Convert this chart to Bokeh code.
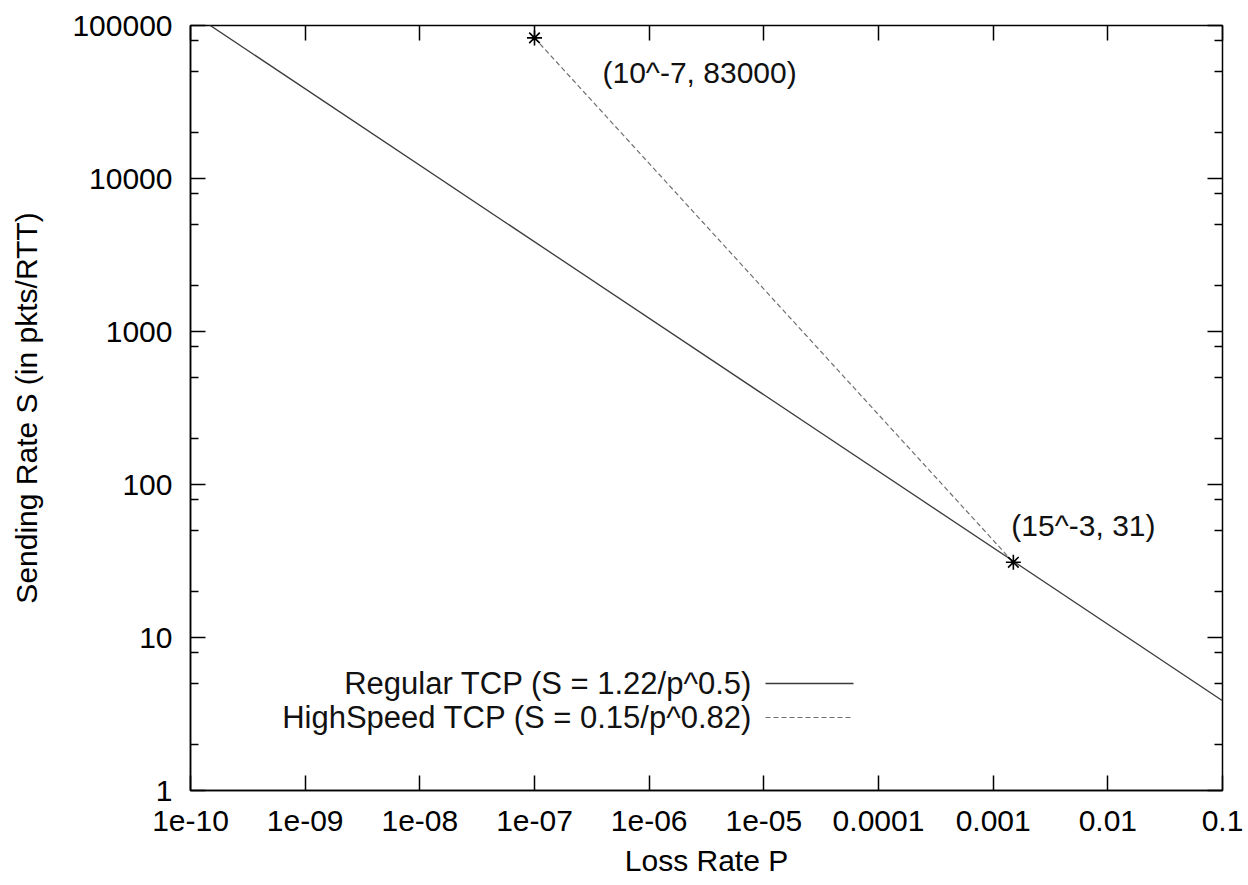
from bokeh.plotting import figure
from bokeh.models import FixedTicker, LogAxis, CustomJSTickFormatter
from bokeh.core.properties import value
from bokeh.embed import file_html
from bokeh.resources import INLINE

# ---- data ----
regular_p = [1e-10, 0.1]
regular_s = [122000, 3.86]
highspeed_p = [1e-7, 0.0015]
highspeed_s = [83000, 31]
point_p = [1e-7, 0.0015]
point_s = [83000, 31]
point_labels = ["(10^-7, 83000)", "(15^-3, 31)"]
legend_labels = ["Regular TCP (S = 1.22/p^0.5)", "HighSpeed TCP (S = 0.15/p^0.82)"]
x_ticks = [1e-10, 1e-9, 1e-8, 1e-7, 1e-6, 1e-5, 1e-4, 1e-3, 1e-2, 1e-1]
x_tick_labels = ["1e-10", "1e-09", "1e-08", "1e-07", "1e-06", "1e-05", "0.0001", "0.001", "0.01", "0.1"]
y_ticks = [1, 10, 100, 1000, 10000, 100000]
y_tick_labels = ["1", "10", "100", "1000", "10000", "100000"]
y_minor = [m * 10 ** k for k in range(5) for m in (2, 5, 8)]

FONT = "Liberation Sans"
FS = "30px"

p = figure(x_axis_type="log", y_axis_type="log",
           x_range=(1e-10, 0.1), y_range=(1, 100000),
           frame_width=1032, frame_height=765,
           min_border_left=190, min_border_top=25, min_border_right=24, min_border_bottom=92,
           output_backend="svg", toolbar_location=None)
p.grid.visible = False
p.outline_line_color = "black"
p.outline_line_width = 1.5
p.background_fill_color = "white"
p.border_fill_color = "white"

xfmt = CustomJSTickFormatter(args=dict(labels=x_tick_labels),
                             code="const i = Math.round(Math.log10(tick)) + 10; return labels[i] ?? '';")
yfmt = CustomJSTickFormatter(args=dict(labels=y_tick_labels),
                             code="const i = Math.round(Math.log10(tick)); return labels[i] ?? '';")
blank = CustomJSTickFormatter(code="return '';")

def style_axis(ax, ticker, fmt):
    ax.ticker = ticker
    ax.formatter = fmt
    ax.axis_line_color = "black"
    ax.axis_line_width = 1.5
    ax.major_tick_in = 15
    ax.major_tick_out = 0
    ax.minor_tick_in = 8
    ax.minor_tick_out = 0
    ax.major_tick_line_color = "black"
    ax.major_tick_line_width = 1.5
    ax.minor_tick_line_color = "black"
    ax.minor_tick_line_width = 1.5
    ax.major_label_text_font = FONT
    ax.major_label_text_font_size = FS
    ax.major_label_text_color = "black"
    ax.axis_label_text_font = FONT
    ax.axis_label_text_font_size = FS
    ax.axis_label_text_font_style = "normal"
    ax.axis_label_text_color = "black"

style_axis(p.xaxis[0], FixedTicker(ticks=x_ticks, minor_ticks=[]), xfmt)
style_axis(p.yaxis[0], FixedTicker(ticks=y_ticks, minor_ticks=y_minor), yfmt)
p.xaxis[0].axis_label = "Loss Rate P"
p.yaxis[0].axis_label = "Sending Rate S (in pkts/RTT)"
p.xaxis[0].major_label_standoff = 20
p.xaxis[0].axis_label_standoff = 10
p.yaxis[0].major_label_standoff = 18
p.yaxis[0].axis_label_standoff = 26

# mirrored tick marks on top and right (no labels)
top = LogAxis()
style_axis(top, FixedTicker(ticks=x_ticks, minor_ticks=[]), blank)
top.axis_line_color = None
top.major_label_standoff = 0
right = LogAxis()
style_axis(right, FixedTicker(ticks=y_ticks, minor_ticks=y_minor), blank)
right.axis_line_color = None
right.major_label_standoff = 0
p.add_layout(top, "above")
p.add_layout(right, "right")

# curves
p.line(regular_p, regular_s, line_color="#3a3a3a", line_width=1.3)
p.line(highspeed_p, highspeed_s, line_color="#707070", line_width=1.2, line_dash="5 3")
p.scatter(point_p, point_s, marker="asterisk", size=15, line_color="black", line_width=1.6)

# point annotations
p.text([point_p[0]], [point_s[0]], text=[point_labels[0]], x_offset=68, y_offset=35,
       text_font=value(FONT), text_font_size=FS, text_baseline="middle", text_align="left",
       text_color="#111111")
p.text([point_p[1]], [point_s[1]], text=[point_labels[1]], x_offset=-2, y_offset=-37,
       text_font=value(FONT), text_font_size=FS, text_baseline="middle", text_align="left",
       text_color="#111111")

# legend (gnuplot style: text right-aligned, sample line to the right)
def fx(px):
    return 10 ** (-10 + 9 * (px - 190) / 1032)

def fy(py):
    return 10 ** (5 * (790 - py) / 765)

rows = [683, 717]
p.text([fx(752)] * 2, [fy(r) for r in rows], text=legend_labels,
       text_font=value(FONT), text_font_size="31px", text_baseline="middle", text_align="right",
       text_color="#111111")
p.line([fx(765), fx(853)], [fy(rows[0])] * 2, line_color="#3a3a3a", line_width=1.3)
p.line([fx(765), fx(853)], [fy(rows[1])] * 2, line_color="#707070", line_width=1.2, line_dash="5 3")

open("out.html", "w").write(file_html(p, INLINE))
